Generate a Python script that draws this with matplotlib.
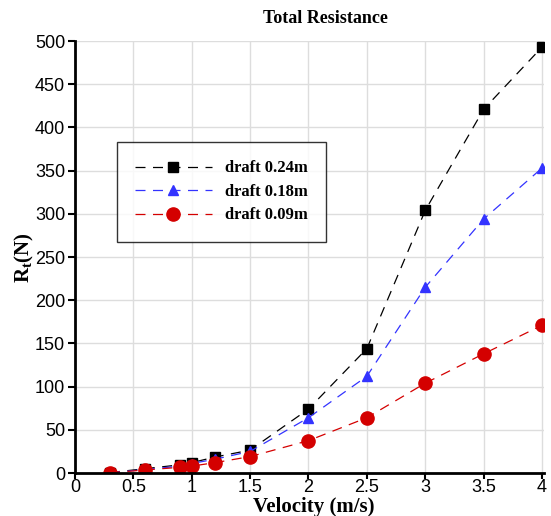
import numpy as np
import matplotlib.pyplot as plt

plt.rcParams['mathtext.fontset'] = 'custom'
plt.rcParams['mathtext.rm'] = 'Liberation Serif:bold'

# velocity (m/s)
velocity = [0.3, 0.6, 0.9, 1.0, 1.2, 1.5, 2.0, 2.5, 3.0, 3.5, 4.0]

# total resistance (N) for each draft
rt_024 = [0.5, 5, 9.5, 12, 18.5, 26.5, 74, 144, 304, 421, 493]
rt_018 = [0.4, 4, 8, 11, 16, 25, 64, 112, 215, 294, 353]
rt_009 = [0.3, 3.5, 6.6, 8, 12, 19, 37.5, 64, 104, 138, 171]

fig = plt.figure(figsize=(5.51, 5.16), dpi=100)
ax = fig.add_axes([0.136, 0.0833, 0.852, 0.8372])

ax.plot(velocity, rt_024, color='black', linestyle=(0, (8, 6)), lw=0.9,
        marker='s', markersize=7, label='draft 0.24m')
ax.plot(velocity, rt_018, color='#3333ff', linestyle=(0, (8, 6)), lw=0.9,
        marker='^', markersize=7.5, label='draft 0.18m')
ax.plot(velocity, rt_009, color='#d40000', linestyle=(0, (8, 6)), lw=0.9,
        marker='o', markersize=9.5, label='draft 0.09m')

ax.set_xlim(0, 4.02)
ax.set_ylim(0, 500)
ax.set_xticks(np.arange(0, 4.01, 0.5))
ax.set_xticklabels(['0', '0.5', '1', '1.5', '2', '2.5', '3', '3.5', '4'])
ax.set_yticks(np.arange(0, 501, 50))
ax.grid(True, color='#dddddd', lw=1)
ax.set_axisbelow(True)

for s in ['top', 'right']:
    ax.spines[s].set_visible(False)
for s in ['left', 'bottom']:
    ax.spines[s].set_linewidth(2)
ax.tick_params(direction='out', width=1.5, labelsize=13)
ax.tick_params(axis='y', length=5, pad=2)
ax.tick_params(axis='x', length=4, pad=0)
for lab in ax.get_xticklabels() + ax.get_yticklabels():
    lab.set_family('Liberation Sans')

# axis labels and title as figure text so nothing gets clipped
fig.text(0.57, 0.018, 'Velocity (m/s)', ha='center', va='center',
         fontsize=15, fontweight='bold', family='Liberation Serif')
fig.text(0.045, 0.50, r'R$_\mathrm{t}$(N)', ha='center', va='center', rotation=90,
         fontsize=15, fontweight='bold', family='Liberation Serif')
fig.text(0.59, 0.965, 'Total Resistance', ha='center', va='center',
         fontsize=13, fontweight='bold', family='Liberation Serif')

leg = ax.legend(loc='upper left', bbox_to_anchor=(0.089, 0.766), handlelength=4.6,
                frameon=True, fancybox=False, edgecolor='black', borderaxespad=0,
                prop={'family': 'Liberation Serif', 'weight': 'bold', 'size': 12},
                borderpad=1.1, labelspacing=0.45, handletextpad=0.8)
leg.get_frame().set_linewidth(1)

fig.savefig('out.png', dpi=100)
